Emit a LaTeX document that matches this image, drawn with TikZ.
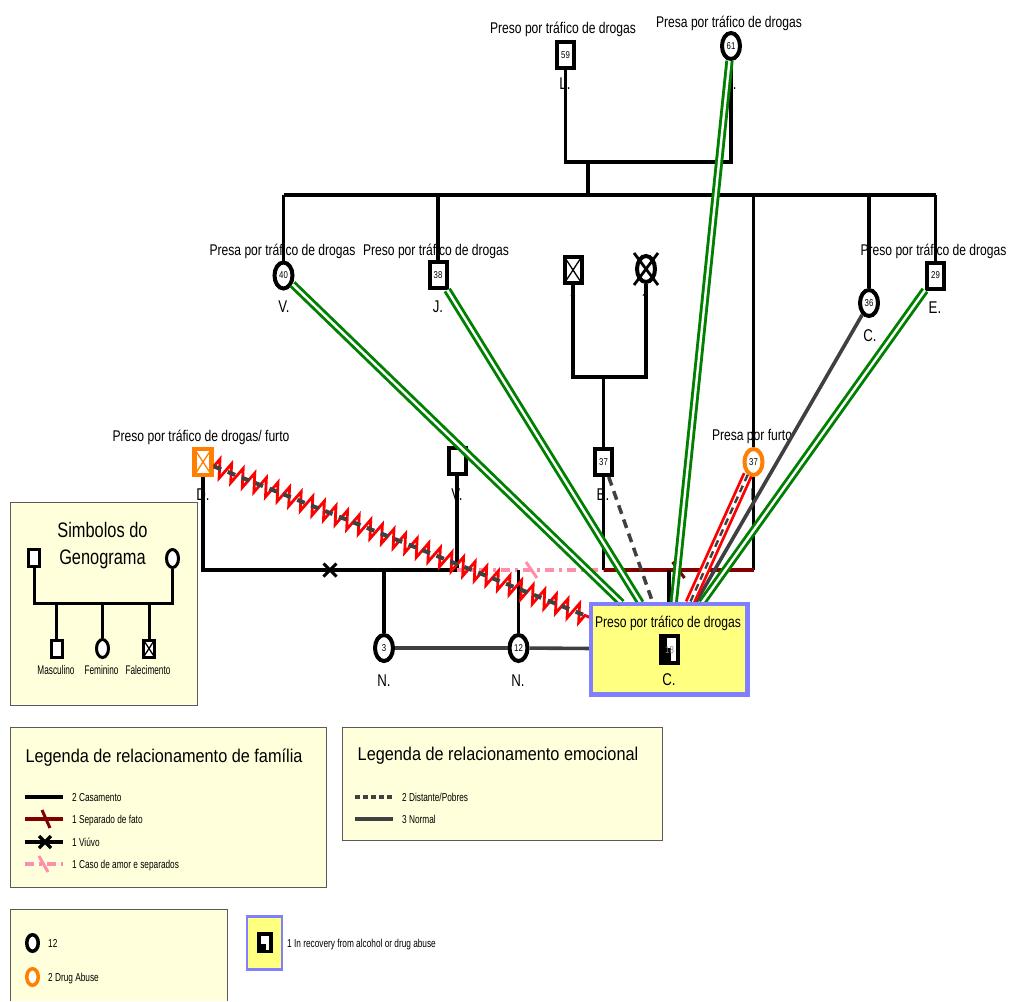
\documentclass[tikz,border=0pt]{standalone}
\usepackage{fontspec}
\setmainfont{Liberation Sans}
\newfontfamily\fA[FakeStretch=0.78]{Liberation Sans}
\newfontfamily\fT[FakeStretch=0.88]{Liberation Sans}
\newfontfamily\fS[FakeStretch=0.72]{Liberation Sans}
\newfontfamily\fX[FakeStretch=0.66]{Liberation Sans}
\usetikzlibrary{shapes.geometric,decorations.pathmorphing}
\definecolor{ggreen}{HTML}{008000}
\definecolor{dgray}{HTML}{404040}
\definecolor{orangeC}{HTML}{FF8000}
\definecolor{dred}{HTML}{800000}
\definecolor{pinkC}{HTML}{FF8FA8}
\definecolor{legfill}{HTML}{FFFFDC}
\definecolor{legline}{HTML}{5A5A5A}
\definecolor{cfill}{HTML}{FFFF80}
\definecolor{cline}{HTML}{7F7FFF}
\tikzset{
  sq/.style={rectangle, draw=black, line width=4pt, minimum width=17pt, minimum height=26pt, inner sep=0pt, fill=white, font=\fA\fontsize{10}{11}\selectfont},
  ci/.style={ellipse, draw=black, line width=4pt, minimum width=18pt, minimum height=26pt, inner sep=0pt, fill=white, font=\fA\fontsize{10}{11}\selectfont},
  xblack/.style={path picture={\draw[line width=1.3pt, black] (path picture bounding box.north west) -- (path picture bounding box.south east) (path picture bounding box.north east) -- (path picture bounding box.south west);}},
  xorange/.style={path picture={\draw[line width=1.3pt, orangeC] (path picture bounding box.north west) -- (path picture bounding box.south east) (path picture bounding box.north east) -- (path picture bounding box.south west);}},
  desc/.style={anchor=base, inner sep=0pt, font=\fA\fontsize{15.5}{17}\selectfont},
  nm/.style={anchor=base, inner sep=0pt, font=\fA\fontsize{17}{19}\selectfont},
  fam/.style={line width=3.5pt, black},
  sepline/.style={line width=3.5pt, dred},
  affair/.style={line width=3.5pt, pinkC, dash pattern=on 9pt off 5pt on 3pt off 5pt},
  normalrel/.style={line width=3.6pt, dgray},
  distantrel/.style={line width=3.5pt, dgray, dash pattern=on 9pt off 6pt},
  greenrel/.style={draw=ggreen, line width=2.9pt, double=white, double distance=2.4pt},
  hostile/.style={draw=red, line width=2.8pt, decorate, decoration={zigzag, segment length=12.5pt, amplitude=9pt}},
  redrel/.style={draw=red, line width=2.8pt, double=white, double distance=5pt},
  cboxst/.style={rectangle, draw=cline, fill=cfill, line width=3pt, minimum width=155pt, minimum height=89pt, inner sep=0pt},
  legbox/.style={rectangle, draw=legline, fill=legfill, line width=1pt, inner sep=0pt},
  legtitle/.style={anchor=base, inner sep=0pt, font=\fT\fontsize{18.5}{20}\selectfont},
  legtext/.style={anchor=base west, inner sep=0pt, font=\fS\fontsize{11.5}{13}\selectfont},
  tinytext/.style={anchor=base, inner sep=0pt, font=\fX\fontsize{12.5}{14}\selectfont},
  smsq/.style={rectangle, draw=black, line width=3pt, minimum width=11pt, minimum height=17pt, inner sep=0pt, fill=white},
  smci/.style={ellipse, draw=black, line width=3pt, minimum width=12pt, minimum height=18pt, inner sep=0pt, fill=white},
}
\begin{document}
\begin{tikzpicture}[x=1pt,y=-1pt]
\useasboundingbox (0,0) rectangle (1009,1001);
\fill[white] (0,0) rectangle (1009,1001);

% ---------- helper coordinates ----------
\coordinate (yL) at (0,162);
\coordinate (yBar) at (0,195);
\coordinate (yP) at (0,377);
\coordinate (yM) at (0,570);
\coordinate (sib) at (588,162);
\coordinate (Bc) at (603.5,377);

% ---------- text labels ----------
\node[desc] (tL59) at (563,33) {Preso por tráfico de drogas};
\node[desc] (tL61) at (729,27.5) {Presa por tráfico de drogas};
\node[desc] (tV40) at (282.5,255) {Presa por tráfico de drogas};
\node[desc] (tJ38) at (436,255) {Preso por tráfico de drogas};
\node[desc] (tE29) at (933.5,255) {Preso por tráfico de drogas};
\node[desc] (tD) at (201,441) {Preso por tráfico de drogas/ furto};
\node[desc] (tI37) at (752,440) {Presa por furto};

\node[nm] (nL59) at (565,89) {L.};
\node[nm] (nL61) at (731,89) {L.};
\node[nm] (nV40) at (284,312) {V.};
\node[nm] (nJ38) at (438,312) {J.};
\node[nm] (nC36) at (870,341) {C.};
\node[nm] (nE29) at (935,313) {E.};
\node[nm] (nD) at (203,500) {D.};
\node[nm] (nV2) at (457,500) {V.};
\node[nm] (nB) at (603,500) {B.};
\node[nm] (nI) at (754,500) {I.};
\node[nm] (nN3) at (384,686) {N.};
\node[nm] (nN12) at (518,686) {N.};
\node[anchor=base, inner sep=0pt, font=\fA\fontsize{12}{13}\selectfont] (qf) at (573,302) {?};
\node[anchor=base, inner sep=0pt, font=\fA\fontsize{12}{13}\selectfont] (qm) at (645,302) {?};

% ---------- person symbols ----------
\node[sq] (L59) at (565.5,55) {59};
\node[ci] (L61) at (731,46) {61};
\node[ci] (V40) at (283.5,275.5) {40};
\node[sq] (J38) at (438,275) {38};
\node[ci] (C36) at (869,303) {36};
\node[sq] (E29) at (935.5,275.5) {29};
\node[sq, xblack] (Bf) at (573,270) {};
\node[ci] (Bm) at (646,269) {};
\draw[line width=2.8pt] ([shift={(-12,-16)}]Bm.center) -- ([shift={(12,16)}]Bm.center)
      ([shift={(12,-16)}]Bm.center) -- ([shift={(-12,16)}]Bm.center);
\node[sq] (B37) at (603.5,462) {37};
\node[ci, draw=orangeC] (I37) at (753.5,462) {37};
\node[sq, draw=orangeC, line width=4.5pt, xorange] (D) at (203,462) {};
\node[sq] (V2) at (457,461) {};
\node[ci] (N3) at (384,648) {3};
\node[ci] (N12) at (518.5,648) {12};

% ---------- C. box ----------
\node[cboxst] (cbox) at (669,649) {};
\node[desc] (tC) at (668,627) {Preso por tráfico de drogas};
\node[nm] (nC) at (669,685) {C.};
\node[rectangle, fill=black, minimum width=21pt, minimum height=31pt, inner sep=0pt] (Csym) at (669.5,649) {};
\fill[white] (667,637.5) rectangle (676,648);
\fill[white] (670.5,648) rectangle (676,660.5);
\node[inner sep=0pt, font=\fA\fontsize{10}{11}\selectfont, text=gray] (Cnum) at (669.5,650) {18};

% ---------- family lines ----------
\draw[fam] (L59.south) -- (L59.south |- yL) -- (L61.south |- yL) -- (L61.south);
\draw[fam] (sib) -- (sib |- yBar);
\draw[fam] (V40.north |- yBar) -- (E29.north |- yBar);
\draw[fam] (V40.north |- yBar) -- (V40.north);
\draw[fam] (J38.north |- yBar) -- (J38.north);
\draw[fam] (I37.north |- yBar) -- (I37.north);
\draw[fam] (C36.north |- yBar) -- (C36.north);
\draw[fam] (E29.north |- yBar) -- (E29.north);
\draw[fam] (Bf.south) -- (Bf.south |- yP) -- (Bm.south |- yP) -- (Bm.south);
\draw[fam] (Bc) -- (B37.north);
\draw[fam] (D.south) -- (D.south |- yM) -- (V2.south |- yM) -- (V2.south);
\coordinate (xw) at (330,570);
\draw[line width=3pt] ([shift={(-6.5,-6.5)}]xw) -- ([shift={(6.5,6.5)}]xw) ([shift={(6.5,-6.5)}]xw) -- ([shift={(-6.5,6.5)}]xw);
\draw[fam] (N3.north |- yM) -- (N3.north);
\draw[affair] (V2.south |- yM) -- (B37.south |- yM);
\coordinate (sAf) at (531,570);
\draw[line width=3pt, pinkC] ([shift={(-5,-8)}]sAf) -- ([shift={(6,8)}]sAf);
\draw[fam] (N12.north |- yM) -- (N12.north);
\draw[fam] (B37.south) -- (B37.south |- yM);
\draw[fam] (I37.south) -- (I37.south |- yM);
\draw[sepline] (B37.south |- yM) -- (I37.south |- yM);
\coordinate (sBI) at (678.5,570);
\draw[line width=3pt, dred] ([shift={(-6,-8)}]sBI) -- ([shift={(6,8)}]sBI);
\draw[fam] (cbox.north |- yM) -- (cbox.north);

% ---------- emotional relationships ----------
\draw[greenrel] (V40) -- (cbox);
\draw[greenrel] (J38) -- (cbox);
\draw[greenrel] (L61) -- (cbox);
\draw[greenrel] (E29) -- (cbox);
\draw[normalrel] (C36) -- (cbox);
\draw[redrel] (I37) -- (cbox);
\draw[line width=2.4pt, dgray, dash pattern=on 7pt off 5pt] (I37) -- (cbox);
\draw[distantrel] (B37) -- (cbox);
\draw[hostile] (D) -- (cbox);
\draw[line width=4pt, dgray, dash pattern=on 8pt off 7pt] (D) -- (cbox);
\draw[normalrel] (N3) -- (N12);
\draw[normalrel] (N12) -- (cbox);
\draw[cline, line width=3pt] (cbox.north west) rectangle (cbox.south east);

% ---------- legend: symbols ----------
\node[legbox, minimum width=187pt, minimum height=203pt] (symbox) at (103.5,603.5) {};
\node[anchor=base, inner sep=0pt, font=\fA\fontsize{21}{23}\selectfont] (symt1) at (102.5,537) {Simbolos do};
\node[anchor=base, inner sep=0pt, font=\fA\fontsize{21}{23}\selectfont] (symt2) at (102.5,564) {Genograma};
\node[smsq] (sF) at (34,558) {};
\node[smci] (sM) at (172.5,558.5) {};
\node[smsq] (sC1) at (56.5,648.5) {};
\node[smci] (sC2) at (102.5,648.5) {};
\node[smsq, xblack] (sC3) at (149,648.5) {};
\coordinate (ySym) at (0,603);
\draw[line width=3pt] (sF.south) -- (sF.south |- ySym) -- (sM.south |- ySym) -- (sM.south);
\draw[line width=3pt] (sC1.north |- ySym) -- (sC1.north);
\draw[line width=3pt] (sC2.north |- ySym) -- (sC2.north);
\draw[line width=3pt] (sC3.north |- ySym) -- (sC3.north);
\node[tinytext] (lMasc) at (56,674) {Masculino};
\node[tinytext] (lFem) at (101.5,674) {Feminino};
\node[tinytext] (lFal) at (148,674) {Falecimento};

% ---------- legend: family ----------
\node[legbox, minimum width=316pt, minimum height=160pt] (fambox) at (168,807) {};
\node[legtitle] (famt) at (164,762) {Legenda de relacionamento de família};
\draw[fam] (25,797) -- (63,797);
\node[legtext] (f1) at (72,801) {2 Casamento};
\draw[sepline] (25,819) -- (63,819);
\draw[line width=3pt, dred] (42,810) -- (50,828);
\node[legtext] (f2) at (72,823) {1 Separado de fato};
\draw[fam] (25,842) -- (63,842);
\draw[line width=3.2pt] (39,836) -- (51,848) (51,836) -- (39,848);
\node[legtext] (f3) at (72,846) {1 Viúvo};
\draw[affair] (25,864) -- (63,864);
\draw[line width=3pt, pinkC] (39,856) -- (48,872);
\node[legtext] (f4) at (72,868) {1 Caso de amor e separados};

% ---------- legend: emotional ----------
\node[legbox, minimum width=320pt, minimum height=113pt] (emobox) at (502,783.5) {};
\node[legtitle] (emot) at (498,760) {Legenda de relacionamento emocional};
\draw[line width=3.5pt, dgray, dash pattern=on 5pt off 3pt] (355,797) -- (393,797);
\node[legtext] (e1) at (402,801) {2 Distante/Pobres};
\draw[normalrel] (355,819) -- (393,819);
\node[legtext] (e2) at (402,823) {3 Normal};

% ---------- legend: bottom ----------
\fill[legfill] (10,909) rectangle (227,1001);
\draw[legline, line width=1pt] (10,1001) -- (10,909) -- (227,909) -- (227,1001);
\node[ellipse, draw=black, line width=3.5pt, minimum width=11.5pt, minimum height=16.5pt, inner sep=0pt, fill=white] (lgC1) at (32.5,943) {};
\node[legtext] (lg1) at (48,947) {12};
\node[ellipse, draw=orangeC, line width=3.5pt, minimum width=11.5pt, minimum height=16.5pt, inner sep=0pt, fill=white] (lgC2) at (32.5,977) {};
\node[legtext] (lg2) at (48,981) {2 Drug Abuse};

\node[rectangle, draw=cline, fill=cfill, line width=2.5pt, minimum width=35pt, minimum height=53pt, inner sep=0pt] (recbox) at (264.5,943) {};
\node[rectangle, fill=black, minimum width=16pt, minimum height=21pt, inner sep=0pt] (recsym) at (265,942.5) {};
\fill[white] (261,935.5) rectangle (269,944);
\fill[white] (266,944) rectangle (269,950);
\node[legtext] (rect) at (287,947) {1 In recovery from alcohol or drug abuse};
\end{tikzpicture}
\end{document}
